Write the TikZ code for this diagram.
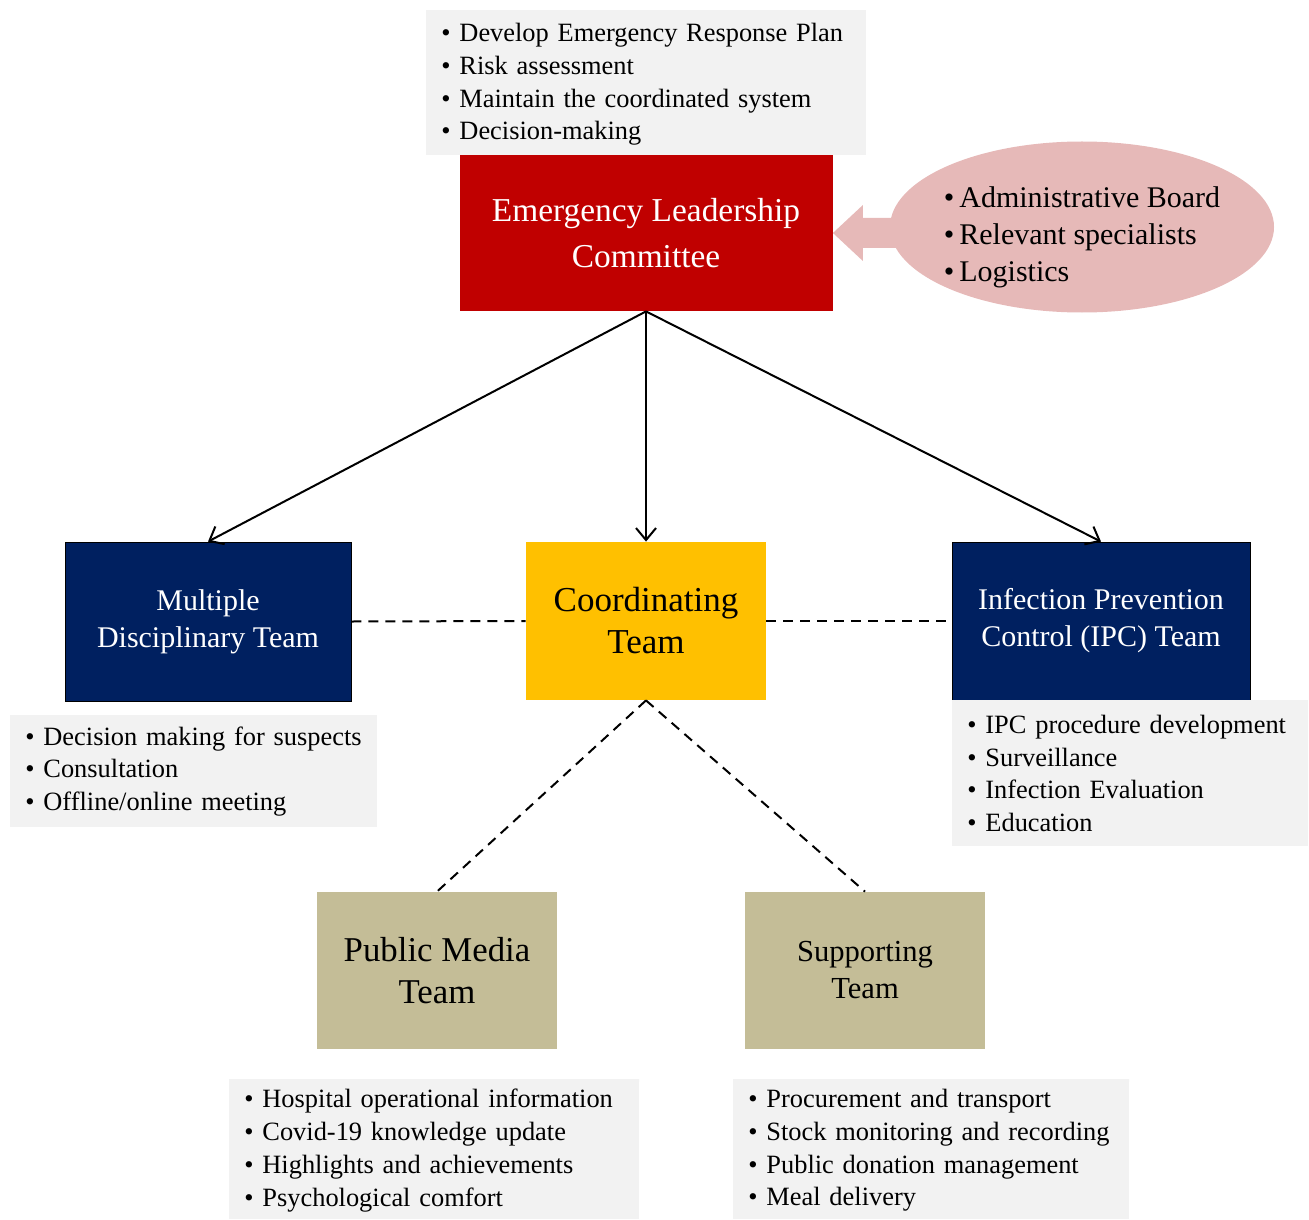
\documentclass[tikz,border=0pt]{standalone}
\usepackage{fontspec}
\setmainfont{Liberation Serif}
\usetikzlibrary{shapes.geometric,arrows.meta}

\definecolor{leadred}{HTML}{C00000}
\definecolor{teamnavy}{HTML}{002060}
\definecolor{coordgold}{HTML}{FFC000}
\definecolor{supporttan}{HTML}{C4BD97}
\definecolor{advisepink}{HTML}{E6B9B8}
\definecolor{notegray}{HTML}{F2F2F2}

\tikzset{
  teambox/.style={rectangle,inner sep=0pt,align=center},
  notebox/.style={rectangle,fill=notegray,anchor=north west,align=left,
    inner xsep=7.5pt,inner ysep=0pt,font=\fontsize{13.2}{16.4}\selectfont},
  linkarrow/.style={-{Straight Barb[length=6pt,width=10pt]},line width=1pt},
  peerlink/.style={line width=1pt,dash pattern=on 5pt off 3.5pt}
}

\begin{document}
\begin{tikzpicture}[x=0.5pt,y=-0.5pt]
  \useasboundingbox (0,0) rectangle (1309,1219);
  % committee and its tasks
  \fill[notegray] (426,10) rectangle (866,14);
  \node[notebox,minimum width=220pt,minimum height=71pt,text width=205pt] (leadnotes) at (426,13)
    {\textbullet\ Develop Emergency Response Plan\\
     \textbullet\ Risk assessment\\
     \textbullet\ Maintain the coordinated system\\
     \textbullet\ Decision-making};
  \node[teambox,fill=leadred,text=white,minimum width=186.5pt,minimum height=78pt,
    font=\fontsize{16.7}{23}\selectfont] (lead) at (646,233)
    {Emergency Leadership\\Committee};
  % advisers feeding the committee
  \fill[advisepink] (lead.east) -- ++(30,-28) -- ++(0,13) -- ++(45,0) -- ++(0,30)
    -- ++(-45,0) -- ++(0,13) -- cycle;
  \node[ellipse,fill=advisepink,inner sep=0pt,minimum width=192pt,minimum height=85.5pt]
    (advisers) at (1082,227) {};
  \node[align=left,inner sep=0pt,font=\fontsize{15}{18.5}\selectfont] (adviselist)
    at ([yshift=-5pt]advisers.center)
    {\textbullet\,Administrative Board\\
     \textbullet\,Relevant specialists\\
     \textbullet\,Logistics};
  % second row
  \node[teambox,fill=teamnavy,draw=black,text=white,minimum width=143pt,minimum height=79.5pt,
    font=\fontsize{15}{18.5}\selectfont] (mdt) at (208,621.5)
    {Multiple\\Disciplinary Team};
  \node[teambox,fill=coordgold,minimum width=120pt,minimum height=79pt,
    font=\fontsize{17.5}{21}\selectfont] (coord) at (646,621)
    {Coordinating\\Team};
  \node[teambox,fill=teamnavy,draw=black,text=white,minimum width=149pt,minimum height=79pt,
    font=\fontsize{15}{18.5}\selectfont] (ipc) at (1101,621)
    {Infection Prevention\\Control (IPC) Team};
  \node[notebox,minimum width=183.5pt,minimum height=56pt,text width=168.5pt] (mdtnotes) at (10,715)
    {\textbullet\ Decision making for suspects\\
     \textbullet\ Consultation\\
     \textbullet\ Offline/online meeting};
  \node[notebox,minimum width=178pt,minimum height=73pt,text width=163pt] (ipcnotes) at (952,700)
    {\textbullet\ IPC procedure development\\
     \textbullet\ Surveillance\\
     \textbullet\ Infection Evaluation\\
     \textbullet\ Education};
  % third row
  \node[teambox,fill=supporttan,minimum width=120pt,minimum height=78.5pt,
    font=\fontsize{17.4}{21}\selectfont] (media) at (437,970.5)
    {Public Media\\Team};
  \node[teambox,fill=supporttan,minimum width=120pt,minimum height=78.5pt,
    font=\fontsize{15.3}{18.5}\selectfont] (support) at (865,970.5)
    {Supporting\\Team};
  \fill[notegray] (229,1079) rectangle (639,1082) (733,1079) rectangle (1129,1082);
  \node[notebox,minimum width=205pt,minimum height=69pt,text width=190pt] (medianotes) at (229,1081)
    {\textbullet\ Hospital operational information\\
     \textbullet\ Covid-19 knowledge update\\
     \textbullet\ Highlights and achievements\\
     \textbullet\ Psychological comfort};
  \node[notebox,minimum width=198pt,minimum height=69pt,text width=183pt] (supportnotes) at (733,1081)
    {\textbullet\ Procurement and transport\\
     \textbullet\ Stock monitoring and recording\\
     \textbullet\ Public donation management\\
     \textbullet\ Meal delivery};
  % connectors
  \foreach \team in {mdt,coord,ipc}
    \draw[linkarrow] (lead.south) -- (\team.north);
  \draw[peerlink] (mdt.east) -- (coord.west);
  \draw[peerlink] (coord.east) -- (ipc.west);
  \draw[peerlink] (coord.south) -- (media.north);
  \draw[peerlink] (coord.south) -- (support.north);
\end{tikzpicture}
\end{document}
